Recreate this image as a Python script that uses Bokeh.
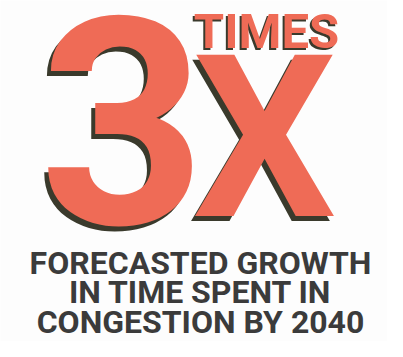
from bokeh.plotting import figure
from bokeh.models import Range1d, ColumnDataSource
from bokeh.core.properties import value
from bokeh.embed import file_html
from bokeh.resources import INLINE

# ---- data ----
multiplier = ["3"]
multiplier_unit = ["X"]
unit_word = ["TIMES"]
caption_lines = ["FORECASTED GROWTH", "IN TIME SPENT IN", "CONGESTION BY 2040"]

# ---- styles / layout ----
SALMON = "#ef6b56"
SHADOW = "#3a3a2c"
CAPTION = "#3b3b3b"
FONT = "Roboto"

W, H = 387, 341
p = figure(width=W, height=H, output_backend="svg", toolbar_location=None,
           x_range=Range1d(8, 8 + W), y_range=Range1d(8 + H, 8),
           min_border=0)
p.axis.visible = False
p.grid.visible = False
p.outline_line_color = None
p.background_fill_color = "#fdfdfd"
p.border_fill_color = "#fdfdfd"

def shadow_text(x, y, txt, size, dx=-4, dy=5):
    p.text(x=[x + dx], y=[y + dy], text=txt, text_color=SHADOW,
           text_font=value(FONT), text_font_size=f"{size}px", text_font_style="bold",
           text_align="center", text_baseline="alphabetic")
    p.text(x=[x], y=[y], text=txt, text_color=SALMON,
           text_font=value(FONT), text_font_size=f"{size}px", text_font_style="bold",
           text_align="center", text_baseline="alphabetic")

shadow_text(130, 127, multiplier, 290)
shadow_text(272, 146, multiplier_unit, 226)
shadow_text(274, 38.5, unit_word, 49, dx=-2, dy=2)

cap_size = 32
src = ColumnDataSource(dict(x=[208] * len(caption_lines),
                            y=[270, 299.5, 329.5],
                            t=caption_lines))
p.text(x="x", y="y", text="t", source=src, text_color=CAPTION,
       text_font=value(FONT), text_font_size=f"{cap_size}px", text_font_style="bold",
       text_align="center", text_baseline="alphabetic")

open("out.html", "w").write(file_html(p, INLINE))
